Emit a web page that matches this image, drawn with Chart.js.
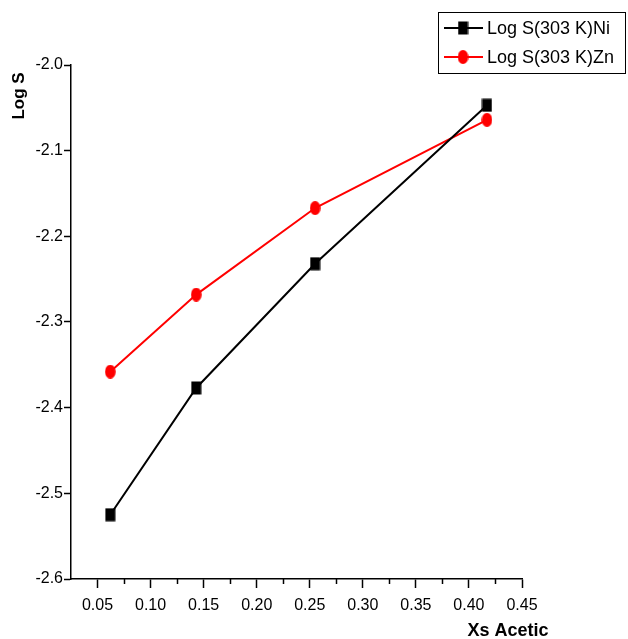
<!DOCTYPE html>
<html>
<head>
<meta charset="utf-8">
<script src="https://cdn.jsdelivr.net/npm/chart.js@4.4.1/dist/chart.umd.min.js"></script>
<style>
  html, body { margin: 0; padding: 0; background: #ffffff; }
  #wrap { width: 628px; height: 639px; position: relative; }
</style>
</head>
<body>
<div id="wrap"><canvas id="c" width="628" height="639"></canvas></div>
<script>
const xsAcetic = [0.062, 0.143, 0.255, 0.417];
const logSNi = [-2.525, -2.377, -2.232, -2.047];
const logSZn = [-2.358, -2.268, -2.167, -2.064];
const seriesNames = ['Log S(303 K)Ni', 'Log S(303 K)Zn'];
const xTickLabels = ['0.05','0.10','0.15','0.20','0.25','0.30','0.35','0.40','0.45'];
const yTickLabels = ['-2.0','-2.1','-2.2','-2.3','-2.4','-2.5','-2.6'];
const xTitle = 'Xs Acetic';
const yTitle = 'Log S';

const FONT = '"Liberation Sans", Arial, sans-serif';

function makeMarker(kind, color) {
  const c = document.createElement('canvas');
  c.width = 11; c.height = 14;
  const g = c.getContext('2d');
  g.fillStyle = color;
  if (kind === 'rect') {
    g.fillRect(0.5, 0.5, 10, 13);
  } else {
    g.beginPath();
    g.ellipse(5.5, 7, 5.3, 7, 0, 0, Math.PI * 2);
    g.fill();
  }
  return c;
}
const niMarker = makeMarker('rect', '#000000');
const znMarker = makeMarker('ellipse', '#ff0000');

const extras = {
  id: 'extras',
  afterDraw(chart) {
    const ctx = chart.ctx;
    const xs = chart.scales.x, ys = chart.scales.y;
    ctx.save();
    ctx.strokeStyle = '#000';
    ctx.lineWidth = 1.5;
    for (let v = 0.075; v < 0.45; v += 0.05) {
      const px = Math.round(xs.getPixelForValue(v)) + 0.5;
      ctx.beginPath();
      ctx.moveTo(px, ys.bottom);
      ctx.lineTo(px, ys.bottom + 5);
      ctx.stroke();
    }
    for (let v = -2.55; v > -2.0; v += 0.1) {
      const py = Math.round(ys.getPixelForValue(v)) + 0.5;
      ctx.beginPath();
      ctx.moveTo(xs.left, py);
      ctx.lineTo(xs.left - 4, py);
      ctx.stroke();
    }
    ctx.fillStyle = '#000';
    ctx.textAlign = 'center';
    ctx.textBaseline = 'middle';
    ctx.font = 'bold 18px ' + FONT;
    ctx.fillText(xTitle, 508, 631);
    ctx.font = 'bold 17px ' + FONT;
    ctx.translate(19, 96);
    ctx.rotate(-Math.PI / 2);
    ctx.fillText(yTitle, 0, 0);
    ctx.restore();

    ctx.save();
    ctx.strokeStyle = '#000';
    ctx.lineWidth = 1;
    ctx.strokeRect(438.5, 12.5, 187, 61);
    const rows = [28, 57];
    chart.data.datasets.forEach((ds, i) => {
      const y = rows[i];
      ctx.strokeStyle = ds.borderColor;
      ctx.lineWidth = 2;
      ctx.beginPath();
      ctx.moveTo(444, y);
      ctx.lineTo(483, y);
      ctx.stroke();
      const img = ds.pointStyle;
      ctx.drawImage(img, 463 - img.width / 2, y - img.height / 2);
      ctx.fillStyle = '#000';
      ctx.font = '18px ' + FONT;
      ctx.textAlign = 'left';
      ctx.textBaseline = 'middle';
      ctx.fillText(ds.label, 487, y + 1);
    });
    ctx.restore();
  }
};

new Chart(document.getElementById('c'), {
  type: 'line',
  data: {
    datasets: [
      {
        label: seriesNames[0],
        data: xsAcetic.map((x, i) => ({ x: x, y: logSNi[i] })),
        borderColor: '#000000',
        backgroundColor: '#000000',
        pointStyle: niMarker,
        borderWidth: 2,
        tension: 0
      },
      {
        label: seriesNames[1],
        data: xsAcetic.map((x, i) => ({ x: x, y: logSZn[i] })),
        borderColor: '#ff0000',
        backgroundColor: '#ff0000',
        pointStyle: znMarker,
        borderWidth: 2,
        tension: 0
      }
    ]
  },
  options: {
    responsive: false,
    animation: false,
    devicePixelRatio: 1,
    layout: { padding: { left: 0, right: 106, top: 65, bottom: 0 } },
    plugins: { legend: { display: false }, tooltip: { enabled: false } },
    scales: {
      x: {
        type: 'linear',
        min: 0.025,
        max: 0.45,
        afterBuildTicks(scale) {
          scale.ticks = xTickLabels.map(t => ({ value: parseFloat(t) }));
        },
        afterFit(scale) { scale.height = 60; },
        border: { display: true, color: '#000', width: 1.5 },
        grid: { display: true, drawOnChartArea: false, drawTicks: true, tickLength: 9, tickColor: '#000', tickWidth: 1.5 },
        ticks: {
          color: '#000',
          font: { family: FONT, size: 16 },
          padding: 8,
          maxRotation: 0,
          autoSkip: false,
          callback(v, i) { return xTickLabels[i]; }
        }
      },
      y: {
        type: 'linear',
        min: -2.6,
        max: -2.0,
        afterBuildTicks(scale) {
          scale.ticks = yTickLabels.map(t => ({ value: parseFloat(t) }));
        },
        afterFit(scale) { scale.width = 71; },
        border: { display: true, color: '#000', width: 1.5 },
        grid: { display: true, drawOnChartArea: false, drawTicks: true, tickLength: 7, tickColor: '#000', tickWidth: 1.5 },
        ticks: {
          color: '#000',
          font: { family: FONT, size: 16 },
          padding: 1,
          autoSkip: false,
          callback(v, i) { return yTickLabels[i]; }
        }
      }
    }
  },
  plugins: [extras]
});
</script>
</body>
</html>
